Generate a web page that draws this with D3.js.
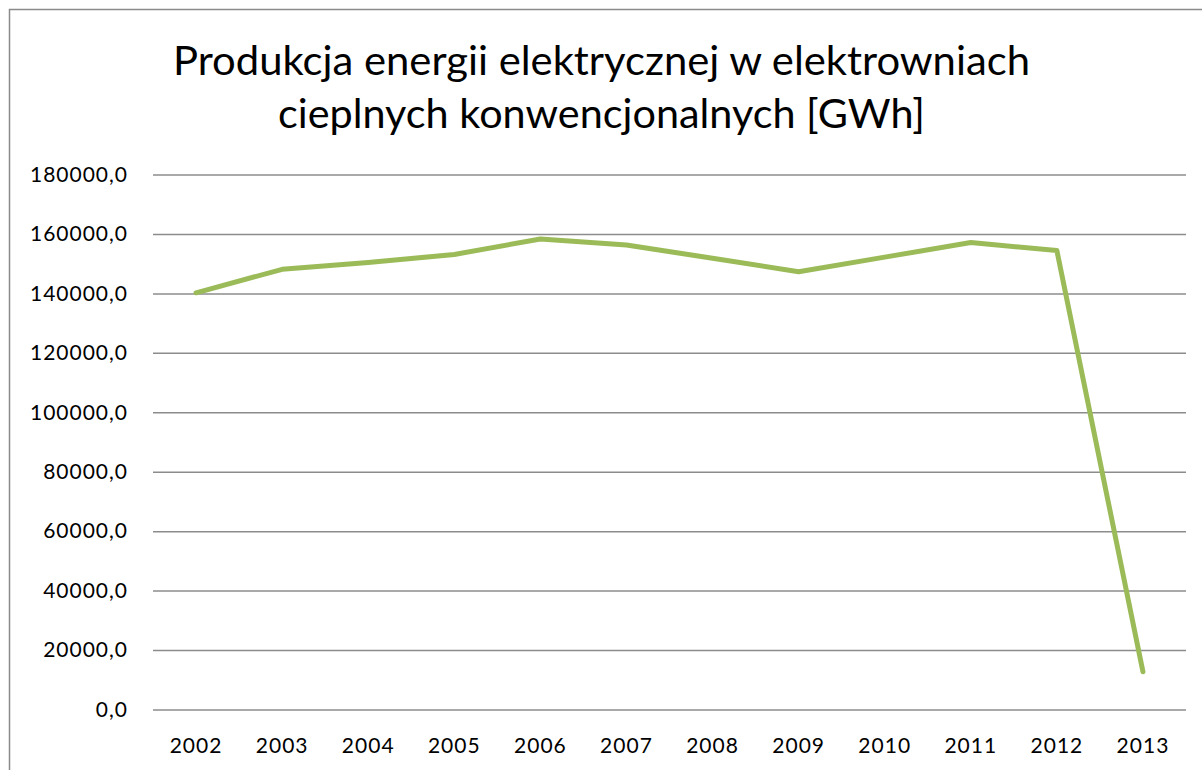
<!DOCTYPE html>
<html>
<head>
<meta charset="utf-8">
<script src="https://cdn.jsdelivr.net/npm/d3@7"></script>
<style>
  body { margin: 0; background: #fff; }
  svg { display: block; font-family: Lato, "Open Sans", sans-serif; }
</style>
</head>
<body>
<div id="chart"></div>
<script>
// Data
const years = ["2002", "2003", "2004", "2005", "2006", "2007", "2008", "2009", "2010", "2011", "2012", "2013"];
const production = [140200, 148100, 150400, 153100, 158300, 156300, 151800, 147300, 152200, 157100, 154400, 12700];
const yTicks = [0, 20000, 40000, 60000, 80000, 100000, 120000, 140000, 160000, 180000];
const titleLines = ["Produkcja energii elektrycznej w elektrowniach", "cieplnych konwencjonalnych [GWh]"];

const W = 1202, H = 770;
const margin = { top: 174.5, right: 16, bottom: 60.5, left: 153 },
      width = W - margin.left - margin.right,
      height = H - margin.top - margin.bottom;

const svg = d3.select("#chart")
  .append("svg")
    .attr("width", W)
    .attr("height", H);

// chart border (runs past the window at right and bottom)
svg.append("rect")
    .attr("x", 9.5)
    .attr("y", 9.5)
    .attr("width", 1300)
    .attr("height", 900)
    .attr("fill", "none")
    .attr("stroke", "#8a8a8a")
    .attr("stroke-width", 1.5);

// title
const titleWidths = [857, 647];
svg.append("g")
    .selectAll("text")
    .data(titleLines)
    .join("text")
      .attr("x", W / 2 + 0.5)
      .attr("y", (d, i) => 75 + i * 53)
      .attr("text-anchor", "middle")
      .attr("font-size", 40)
      .attr("fill", "#000")
      .attr("textLength", (d, i) => titleWidths[i])
      .attr("lengthAdjust", "spacingAndGlyphs")
      .text(d => d);

const g = svg.append("g")
    .attr("transform", `translate(${margin.left},${margin.top})`);

const x = d3.scaleBand()
    .domain(years)
    .range([0, width]);

const y = d3.scaleLinear()
    .domain([0, 180000])
    .range([height, 0]);

const fmt = v => d3.format(".1f")(v).replace(".", ",");

// y axis with gridlines
g.append("g")
    .attr("class", "y-axis")
    .call(d3.axisLeft(y).tickValues(yTicks).tickSize(-width).tickPadding(25).tickFormat(fmt))
    .call(a => a.select(".domain").remove())
    .call(a => a.selectAll(".tick line").attr("stroke", "#8c8c8c").attr("stroke-width", 1.5))
    .call(a => a.selectAll(".tick text")
        .attr("font-family", "Lato, 'Open Sans', sans-serif")
        .attr("font-size", 21)
        .attr("letter-spacing", 1)
        .attr("fill", "#000")
        .attr("dy", "0.32em"));

// x axis labels
g.append("g")
    .attr("class", "x-axis")
    .attr("transform", `translate(0,${height})`)
    .call(d3.axisBottom(x).tickSize(0).tickPadding(43))
    .call(a => a.select(".domain").remove())
    .call(a => a.selectAll(".tick text")
        .attr("font-family", "Lato, 'Open Sans', sans-serif")
        .attr("font-size", 21)
        .attr("letter-spacing", 1)
        .attr("fill", "#000")
        .attr("dy", 0));

// line
const line = d3.line()
    .x((d, i) => x(years[i]) + x.bandwidth() / 2)
    .y(d => y(d));

g.append("path")
    .datum(production)
    .attr("fill", "none")
    .attr("stroke", "#9bbb59")
    .attr("stroke-width", 5)
    .attr("stroke-linejoin", "round")
    .attr("stroke-linecap", "round")
    .attr("d", line);
</script>
</body>
</html>
